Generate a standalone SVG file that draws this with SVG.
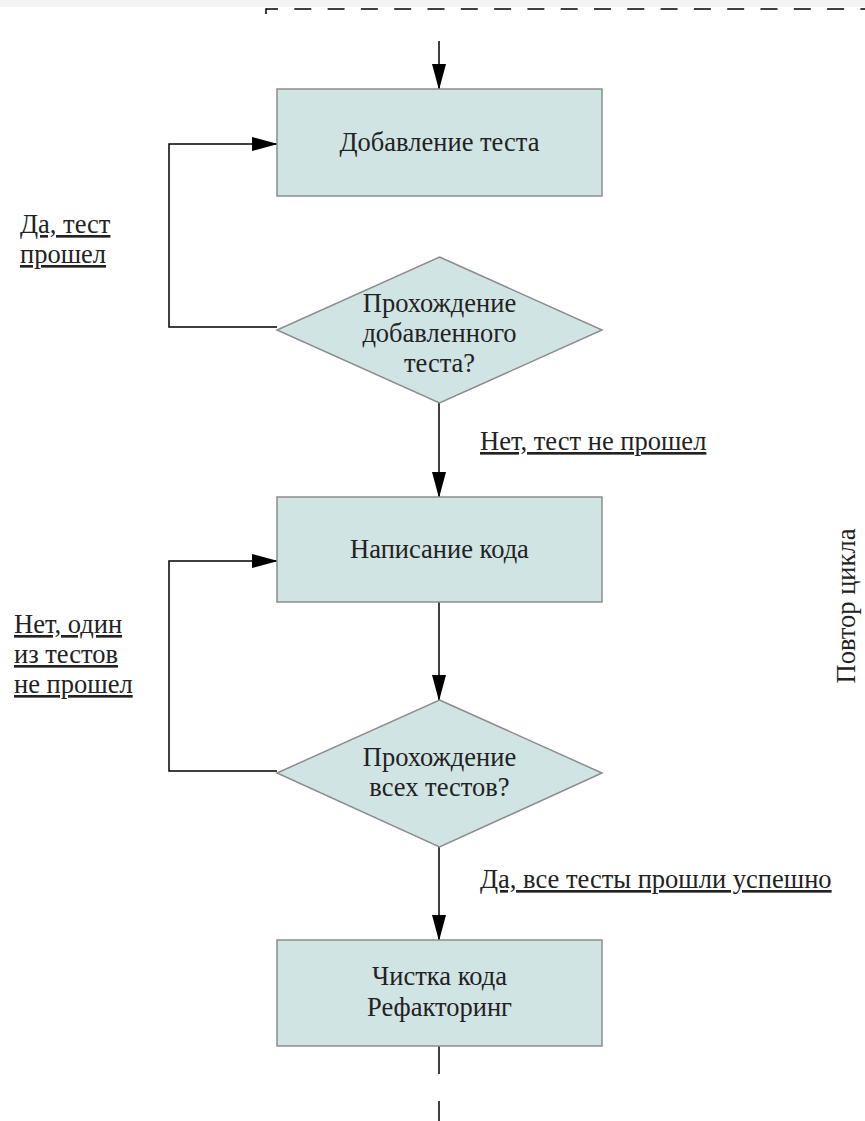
<svg xmlns="http://www.w3.org/2000/svg" width="865" height="1121" viewBox="0 0 865 1121">
<defs>
<marker id="ah" markerWidth="26" markerHeight="14" refX="25" refY="7" orient="auto" markerUnits="userSpaceOnUse" viewBox="0 0 26 14">
<path d="M0,0 L26,7 L0,14 Z" fill="#000"/>
</marker>
<style>
.box{fill:#d1e4e4;stroke:#8c8c8c;stroke-width:1.5}
.t{font-family:"Liberation Serif","Times New Roman",serif;font-size:26.5px;fill:#222}
.c{text-anchor:middle}
.u{text-decoration:underline}
.ln{fill:none;stroke:#000;stroke-width:1.5}
</style>
</defs>
<rect x="0" y="0" width="865" height="7" fill="#f3f3f3"/>
<g id="connectors">
<path class="ln" d="M266,14 V9 H865" stroke-dasharray="17 16.3"/>
<path class="ln" d="M439,41 V89" marker-end="url(#ah)"/>
<path class="ln" d="M277,327 H169 V144 H277" marker-end="url(#ah)"/>
<path class="ln" d="M439,403 V497" marker-end="url(#ah)"/>
<path class="ln" d="M439,602 V700" marker-end="url(#ah)"/>
<path class="ln" d="M277,771 H169 V561 H277" marker-end="url(#ah)"/>
<path class="ln" d="M439,847 V940" marker-end="url(#ah)"/>
<path class="ln" d="M439,1046 V1074 M439,1101 V1121" stroke="#444"/>
</g>
<g id="n1">
<rect class="box" x="277" y="89" width="325" height="107"/>
<text class="t c" x="439.5" y="151">Добавление теста</text>
</g>
<g id="d1">
<polygon class="box" points="439.5,257 602,330 439.5,403 277,330"/>
<text class="t c" x="439.5" y="312">Прохождение</text>
<text class="t c" x="439.5" y="342">добавленного</text>
<text class="t c" x="439.5" y="372">теста?</text>
</g>
<g id="n2">
<rect class="box" x="277" y="497" width="325" height="105"/>
<text class="t c" x="439.5" y="558">Написание кода</text>
</g>
<g id="d2">
<polygon class="box" points="439.5,700 602,773 439.5,847 277,773"/>
<text class="t c" x="439.5" y="766">Прохождение</text>
<text class="t c" x="439.5" y="796">всех тестов?</text>
</g>
<g id="n3">
<rect class="box" x="277" y="940" width="325" height="106"/>
<text class="t c" x="439.5" y="985">Чистка кода</text>
<text class="t c" x="439.5" y="1016">Рефакторинг</text>
</g>
<g id="labels">
<text class="t u" x="20" y="233">Да, тест</text>
<text class="t u" x="20" y="263">прошел</text>
<text class="t u" x="14" y="633">Нет, один</text>
<text class="t u" x="14" y="663">из тестов</text>
<text class="t u" x="14" y="693">не прошел</text>
<text class="t u" x="480" y="450">Нет, тест не прошел</text>
<text class="t u" x="480" y="888">Да, все тесты прошли успешно</text>
<text class="t c" x="0" y="0" transform="translate(855,606) rotate(-90)">Повтор цикла</text>
</g>
</svg>
